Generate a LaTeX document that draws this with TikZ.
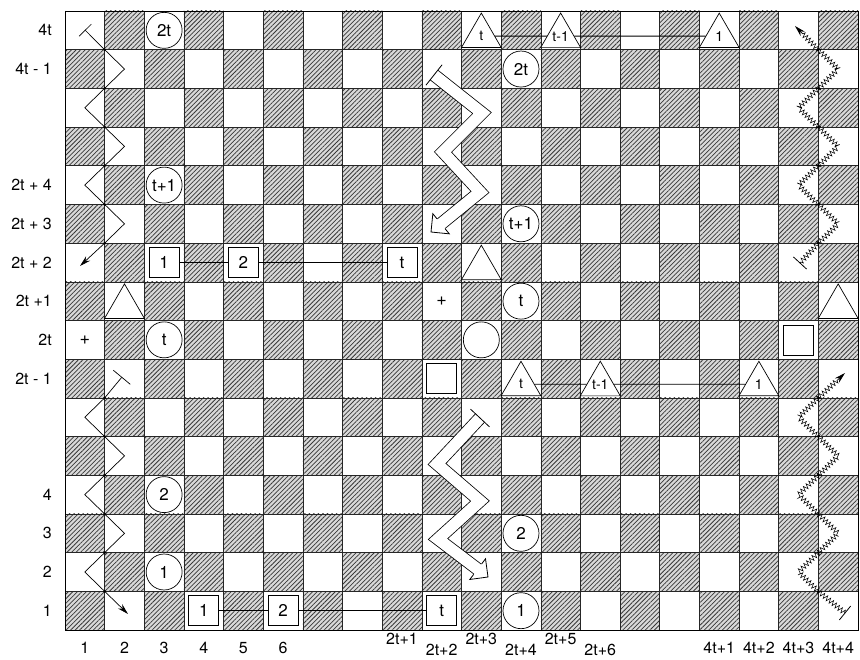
\documentclass[tikz,border=0pt]{standalone}
\usepackage{fontspec}
\setmainfont{TeX Gyre Heros}
\usetikzlibrary{shapes.geometric,patterns.meta,arrows.meta,decorations.pathmorphing,calc}
\newcommand{\bandhead}[3]{%
  \coordinate (#3c) at ($(#1)!13pt!(#2)$);
  \coordinate (#3x) at ($(#1)!11.5pt!(#2)$);
  \coordinate (#3eL) at ($(#3c)!6.5pt!90:(#1)$);
  \coordinate (#3eR) at ($(#3c)!6.5pt!-90:(#1)$);
  \coordinate (#3bL) at ($(#3c)!13pt!90:(#1)$);
  \coordinate (#3bR) at ($(#3c)!13pt!-90:(#1)$);}
\begin{document}
\begin{tikzpicture}[x=1pt,y=-1pt,
  hatchbg/.style={fill=black!15},
  hatchpat/.style={pattern={Lines[angle=45,distance=3.2pt,line width=0.75pt]},pattern color=black!78},
  gridline/.style={line width=0.6pt,black!85},
  lbl/.style={font=\fontsize{16}{16}\selectfont,inner sep=0pt},
  circ/.style={circle,draw,fill=white,line width=0.7pt,minimum size=36pt,inner sep=0pt,font=\fontsize{17}{17}\selectfont},
  tri/.style={regular polygon,regular polygon sides=3,draw,fill=white,line width=0.7pt,minimum size=46pt,inner sep=0pt,yshift=-5.75pt,font=\fontsize{14}{14}\selectfont},
  sq/.style={rectangle,draw,fill=white,line width=0.7pt,minimum size=30pt,inner sep=0pt,font=\fontsize{17}{17}\selectfont},
  plus/.style={inner sep=0pt,font=\fontsize{18}{18}\selectfont},
  link/.style={line width=0.9pt,black},
  zigline/.style={line width=0.7pt,black,line join=miter},
  serrate/.style={line width=0.55pt,black,decorate,decoration={zigzag,amplitude=2.5pt,segment length=3.8pt}},
  bandout/.style={line width=13pt,black,line join=miter},
  bandin/.style={line width=11.4pt,white,line join=miter},
  bandedge/.style={line width=0.8pt,black,line join=miter},
  tiparrow/.style={-{Stealth[length=11pt,width=6pt]},line width=0.7pt},
]
\useasboundingbox (0,0) rectangle (860,660);
\fill[white] (0,0) rectangle (860,660);
% board
\foreach \i in {0,...,15}{
  \foreach \j in {0,...,19}{
    \pgfmathtruncatemacro{\hp}{mod(\i+\j,2)}
    \ifnum\hp=1
      \fill[hatchbg] ({65+39.65*\j},{11+38.69*\i}) rectangle ++(39.65,38.69);
      \fill[hatchpat] ({65+39.65*\j},{11+38.69*\i}) rectangle ++(39.65,38.69);
    \fi
  }
}
\foreach \j in {0,...,20}{\draw[gridline] ({65+39.65*\j},11) -- ({65+39.65*\j},630.04);}
\foreach \i in {0,...,16}{\draw[gridline] (65,{11+38.69*\i}) -- (858,{11+38.69*\i});}
\draw[line width=0.9pt] (65,11) rectangle (858,630.04);

% row labels
\node[lbl,anchor=east] (r0) at (52,30.35) {4t};
\node[lbl,anchor=east] (r1) at (52,69.04) {4t - 1};
\node[lbl,anchor=east] (r4) at (52,185.11) {2t + 4};
\node[lbl,anchor=east] (r5) at (52,223.80) {2t + 3};
\node[lbl,anchor=east] (r6) at (52,262.48) {2t + 2};
\node[lbl,anchor=east] (r7) at (52,301.17) {2t +1};
\node[lbl,anchor=east] (r8) at (52,339.86) {2t};
\node[lbl,anchor=east] (r9) at (52,378.55) {2t - 1};
\node[lbl,anchor=east] (r12) at (52,494.62) {4};
\node[lbl,anchor=east] (r13) at (52,533.31) {3};
\node[lbl,anchor=east] (r14) at (52,572.00) {2};
\node[lbl,anchor=east] (r15) at (52,610.68) {1};
% column labels
\node[lbl] (k1) at (84.83,648) {1};
\node[lbl] (k2) at (124.48,648) {2};
\node[lbl] (k3) at (164.13,648) {3};
\node[lbl] (k4) at (203.78,648) {4};
\node[lbl] (k5) at (243.43,648) {5};
\node[lbl] (k6) at (283.08,648) {6};
\node[lbl] (k9) at (402.03,639) {2t+1};
\node[lbl] (k10) at (441.68,650) {2t+2};
\node[lbl] (k11) at (481.33,639) {2t+3};
\node[lbl] (k12) at (520.98,650) {2t+4};
\node[lbl] (k13) at (560.63,639) {2t+5};
\node[lbl] (k14) at (600.28,650) {2t+6};
\node[lbl] (k17) at (719.23,648) {4t+1};
\node[lbl] (k18) at (758.88,648) {4t+2};
\node[lbl] (k19) at (798.53,648) {4t+3};
\node[lbl] (k20) at (838.18,648) {4t+4};

% circles
\node[circ] (c2ta) at (164.13,30.35) {2t};
\node[circ] (c2tb) at (520.98,69.04) {2t};
\node[circ] (ct1a) at (164.13,185.11) {t+1};
\node[circ] (ct1b) at (520.98,223.80) {t+1};
\node[circ] (cta) at (164.13,339.86) {t};
\node[circ] (ctb) at (520.98,301.17) {t};
\node[circ] (cempty) at (481.33,339.86) {};
\node[circ] (c2a) at (164.13,494.62) {2};
\node[circ] (c1a) at (164.13,572.00) {1};
\node[circ] (c2b) at (520.98,533.31) {2};
\node[circ] (c1b) at (520.98,610.68) {1};
% triangles
\node[tri] (ta1) at (481.33,30.35) {t};
\node[tri] (ta2) at (560.63,30.35) {t-1};
\node[tri] (ta3) at (719.23,30.35) {1};
\node[tri] (tb1) at (520.98,378.55) {t};
\node[tri] (tb2) at (600.28,378.55) {t-1};
\node[tri] (tb3) at (758.88,378.55) {1};
\node[tri] (te1) at (124.48,301.17) {};
\node[tri] (te2) at (481.33,262.48) {};
\node[tri] (te3) at (838.18,301.17) {};
% squares
\node[sq] (sa1) at (164.13,262.48) {1};
\node[sq] (sa2) at (243.43,262.48) {2};
\node[sq] (sa3) at (402.03,262.48) {t};
\node[sq] (sb1) at (203.78,610.68) {1};
\node[sq] (sb2) at (283.08,610.68) {2};
\node[sq] (sb3) at (441.68,610.68) {t};
\node[sq] (se1) at (441.68,378.55) {};
\node[sq] (se2) at (798.53,339.86) {};
% plus signs
\node[plus] (p1) at (84.83,339.86) {+};
\node[plus] (p2) at (441.68,301.17) {+};

% connectors
\draw[link] (ta1) -- (ta2);
\draw[link] (ta2) -- (ta3);
\draw[link] (tb1) -- (tb2);
\draw[link] (tb2) -- (tb3);
\draw[link] (sa1) -- (sa2);
\draw[link] (sa2) -- (sa3);
\draw[link] (sb1) -- (sb2);
\draw[link,line width=0.7pt] (sb2) -- (sb3);

% left zigzags
\coordinate (LT0) at (85,30);
\coordinate (LT1) at (104.65,49.69);
\coordinate (LT2) at (124.5,69.04);
\coordinate (LT3) at (104.65,88.38);
\coordinate (LT4) at (84.8,107.73);
\coordinate (LT5) at (104.65,127.07);
\coordinate (LT6) at (124.5,146.42);
\coordinate (LT7) at (104.65,165.76);
\coordinate (LT8) at (84.8,185.11);
\coordinate (LT9) at (104.65,204.45);
\coordinate (LT10) at (124.5,223.80);
\coordinate (LT11) at (104.65,243.14);
\coordinate (LT12) at (80,266);
\draw[zigline,{Bar[width=17pt]}-{Stealth[length=11pt,width=6pt]}] (LT0) -- (LT1) -- (LT2) -- (LT3) -- (LT4) -- (LT5) -- (LT6) -- (LT7) -- (LT8) -- (LT9) -- (LT10) -- (LT11) -- (LT12);

\coordinate (LB0) at (122,377);
\coordinate (LB1) at (104.65,397.90);
\coordinate (LB2) at (84.8,417.24);
\coordinate (LB3) at (104.65,436.59);
\coordinate (LB4) at (124.5,455.93);
\coordinate (LB5) at (104.65,475.28);
\coordinate (LB6) at (84.8,494.62);
\coordinate (LB7) at (104.65,513.97);
\coordinate (LB8) at (124.5,533.31);
\coordinate (LB9) at (104.65,552.66);
\coordinate (LB10) at (84.8,572.00);
\coordinate (LB11) at (104.65,591.35);
\coordinate (LB12) at (128,614);
\draw[zigline,{Bar[width=22pt]}-{Stealth[length=11pt,width=6pt]}] (LB0) -- (LB1) -- (LB2) -- (LB3) -- (LB4) -- (LB5) -- (LB6) -- (LB7) -- (LB8) -- (LB9) -- (LB10) -- (LB11) -- (LB12);

% right serrated zigzags
\coordinate (RT0) at (795,26);
\coordinate (RT1) at (818.35,49.69);
\coordinate (RT2) at (838.2,69.04);
\coordinate (RT3) at (818.35,88.38);
\coordinate (RT4) at (798.5,107.73);
\coordinate (RT5) at (818.35,127.07);
\coordinate (RT6) at (838.2,146.42);
\coordinate (RT7) at (818.35,165.76);
\coordinate (RT8) at (798.5,185.11);
\coordinate (RT9) at (818.35,204.45);
\coordinate (RT10) at (838.2,223.80);
\coordinate (RT11) at (818.35,243.14);
\coordinate (RT12) at (800,263);
\coordinate (RT0b) at ($(RT0)!11pt!(RT1)$);
\draw[serrate] (RT0b) -- (RT1) -- (RT2) -- (RT3) -- (RT4) -- (RT5) -- (RT6) -- (RT7) -- (RT8) -- (RT9) -- (RT10) -- (RT11) -- (RT12);
\draw[tiparrow] (RT0b) -- (RT0);
\draw[line width=0.8pt] ($(RT12)!9pt!90:(RT11)$) -- ($(RT12)!9pt!-90:(RT11)$);

\coordinate (RB0) at (845,373);
\coordinate (RB1) at (818.35,397.90);
\coordinate (RB2) at (798.5,417.24);
\coordinate (RB3) at (818.35,436.59);
\coordinate (RB4) at (838.2,455.93);
\coordinate (RB5) at (818.35,475.28);
\coordinate (RB6) at (798.5,494.62);
\coordinate (RB7) at (818.35,513.97);
\coordinate (RB8) at (838.2,533.31);
\coordinate (RB9) at (818.35,552.66);
\coordinate (RB10) at (798.5,572.00);
\coordinate (RB11) at (818.35,591.35);
\coordinate (RB12) at (845,613);
\coordinate (RB0b) at ($(RB0)!11pt!(RB1)$);
\draw[serrate] (RB0b) -- (RB1) -- (RB2) -- (RB3) -- (RB4) -- (RB5) -- (RB6) -- (RB7) -- (RB8) -- (RB9) -- (RB10) -- (RB11) -- (RB12);
\draw[tiparrow] (RB0b) -- (RB0);
\draw[line width=0.8pt] ($(RB12)!9pt!90:(RB11)$) -- ($(RB12)!9pt!-90:(RB11)$);

% vertex dots
\foreach \n in {LT1,LT3,LT5,LT7,LT9,LT11,LB1,LB3,LB5,LB7,LB9,LB11,RT1,RT3,RT5,RT7,RT9,RT11,RB1,RB3,RB5,RB7,RB9,RB11}
  \fill (\n) circle (1.5pt);

% big hollow bands
\coordinate (BTs) at (434,75);
\coordinate (BTv1) at (482,113);
\coordinate (BTv2) at (443,152);
\coordinate (BTv3) at (480,192);
\coordinate (BTt) at (431,232);
\bandhead{BTt}{BTv3}{BTh}
\draw[bandout] (BTs) -- (BTv1) -- (BTv2) -- (BTv3) -- (BThx);
\draw[bandin] (BTs) -- (BTv1) -- (BTv2) -- (BTv3) -- (BThx);
\fill[white] (BTheL) -- (BThbL) -- (BTt) -- (BThbR) -- (BTheR) -- cycle;
\draw[bandedge] (BTheL) -- (BThbL) -- (BTt) -- (BThbR) -- (BTheR);
\draw[bandedge] ($(BTs)!13pt!90:(BTv1)$) -- ($(BTs)!13pt!-90:(BTv1)$);

\coordinate (BBs) at (480,418);
\coordinate (BBv1) at (437,464);
\coordinate (BBv2) at (480,501);
\coordinate (BBv3) at (438,539);
\coordinate (BBt) at (488,577);
\bandhead{BBt}{BBv3}{BBh}
\draw[bandout] (BBs) -- (BBv1) -- (BBv2) -- (BBv3) -- (BBhx);
\draw[bandin] (BBs) -- (BBv1) -- (BBv2) -- (BBv3) -- (BBhx);
\fill[white] (BBheL) -- (BBhbL) -- (BBt) -- (BBhbR) -- (BBheR) -- cycle;
\draw[bandedge] (BBheL) -- (BBhbL) -- (BBt) -- (BBhbR) -- (BBheR);
\draw[bandedge] ($(BBs)!13pt!90:(BBv1)$) -- ($(BBs)!13pt!-90:(BBv1)$);
\end{tikzpicture}
\end{document}
